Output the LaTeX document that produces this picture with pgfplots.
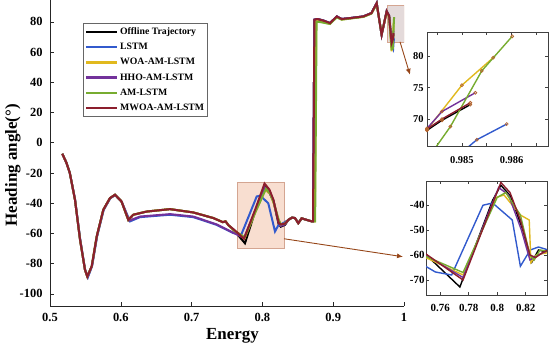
\documentclass[border=0pt]{standalone}
\usepackage{fontspec}
\setmainfont{Liberation Serif}
\usepackage{pgfplots}
\usepackage{pgfplotstable}
\pgfplotsset{compat=1.18}
\usetikzlibrary{arrows.meta}

\definecolor{cLSTM}{RGB}{50,90,205}
\definecolor{cWOA}{RGB}{225,185,30}
\definecolor{cHHO}{RGB}{115,50,155}
\definecolor{cAM}{RGB}{119,172,48}
\definecolor{cMW}{RGB}{140,30,45}
\definecolor{cArrow}{RGB}{150,70,25}
\definecolor{cRect}{RGB}{248,222,208}
\definecolor{cRectB}{RGB}{212,165,145}
\definecolor{cRectT}{RGB}{228,218,218}
\definecolor{cMark}{RGB}{180,100,45}

% ---------------- main series ----------------
\pgfplotstableread{
x y
0.5174 -7.3
0.5230 -13
0.5280 -20
0.5353 -37.7
0.5424 -64
0.5494 -84
0.5527 -88.5
0.5589 -81.8
0.5660 -62
0.5753 -44.3
0.5847 -36.6
0.5918 -34.4
0.6010 -38.8
0.6106 -51
0.6177 -47.6
0.6366 -45.5
0.6695 -43.9
0.7024 -46.1
0.7307 -49.8
0.7440 -52.5
0.7480 -52.0
0.7520 -54.5
0.7600 -58
0.7754 -66.5
0.7900 -45
0.8030 -29
0.8100 -33
0.8154 -38
0.8230 -54
0.8260 -55.5
0.8319 -54.3
0.8366 -51
0.8420 -49.5
0.8460 -49.8
0.8507 -53.2
0.8554 -50
0.8625 -51
0.8696 -52
0.8715 -52
0.8735 81.5
0.8776 81.9
0.8860 80.9
0.8955 79.2
0.9050 83.6
0.9120 81.9
0.9237 82.5
0.9425 83.6
0.9540 85.8
0.9614 92.4
0.9684 71.5
0.9755 87
0.9790 84
0.9825 65.5
0.9843 68.2
0.9846 69.8
0.98517 72.3
}\dBlack

\pgfplotstableread{
x y
0.5174 -7.3
0.5230 -13
0.5280 -20
0.5353 -37.2
0.5424 -63
0.5494 -83.5
0.5535 -89
0.5595 -81.5
0.5665 -62
0.5758 -44.5
0.5850 -36.8
0.5920 -34.6
0.6012 -39
0.6130 -52
0.6271 -49.2
0.6695 -47.6
0.7024 -49.2
0.7354 -54.3
0.7590 -59.8
0.7637 -60
0.7700 -61
0.7920 -35.5
0.7970 -35
0.8083 -40
0.8178 -58.7
0.8220 -55
0.8300 -53
0.8366 -51
0.8420 -49.5
0.8460 -49.8
0.8507 -53.2
0.8554 -50
0.8625 -51
0.8696 -52
0.8715 -52
0.8735 81.5
0.8776 81.9
0.8860 80.9
0.8955 79.2
0.9050 83.6
0.9120 81.9
0.9237 82.5
0.9425 83.6
0.9540 85.8
0.9614 92.4
0.9684 71.5
0.9755 87
0.9790 84
0.9825 64
0.9846 62
0.9853 66.7
0.9859 69.2
}\dLSTM

\pgfplotstableread{
x y
0.5174 -7.3
0.5230 -13
0.5280 -20
0.5353 -37.7
0.5424 -64
0.5494 -84
0.5527 -88.5
0.5589 -81.8
0.5660 -62
0.5753 -44.3
0.5847 -36.6
0.5918 -34.4
0.6010 -38.8
0.6106 -51
0.6177 -47.6
0.6366 -45.5
0.6695 -43.9
0.7024 -46.1
0.7307 -49.8
0.7440 -52.5
0.7480 -52.0
0.7520 -54.5
0.7600 -58
0.7750 -63
0.7900 -46
0.8040 -31
0.8110 -34
0.8160 -40
0.8220 -50
0.8260 -54
0.8319 -53.5
0.8366 -51
0.8420 -49.5
0.8460 -49.8
0.8507 -53.2
0.8554 -50
0.8625 -51
0.8696 -52
0.8740 -52
0.8760 81
0.8800 80.5
0.8860 79.8
0.8955 78.8
0.9050 83.2
0.9120 81.6
0.9237 82.3
0.9425 83.4
0.9540 85.6
0.9614 92
0.9684 71.8
0.9755 86.5
0.9790 83.5
0.9825 60.5
0.9843 68.3
0.9850 75.4
0.98563 79.8
}\dWOA

\pgfplotstableread{
x y
0.5174 -7.3
0.5230 -13
0.5280 -20
0.5353 -37.5
0.5424 -63.5
0.5494 -84
0.5532 -88.8
0.5592 -81.6
0.5662 -62
0.5755 -44.4
0.5848 -36.7
0.5919 -34.5
0.6011 -38.9
0.6120 -51.5
0.6271 -48.8
0.6695 -47.2
0.7024 -48.8
0.7354 -54
0.7590 -59.5
0.7740 -63
0.7900 -45
0.8030 -29.5
0.8100 -33
0.8160 -39
0.8230 -53
0.8260 -55
0.8319 -54
0.8366 -51
0.8420 -49.5
0.8460 -49.8
0.8507 -53.2
0.8554 -50
0.8625 -51
0.8696 -52
0.8715 -52
0.8735 81.5
0.8776 81.9
0.8860 80.9
0.8955 79.2
0.9050 83.6
0.9120 81.9
0.9237 82.5
0.9425 83.6
0.9540 85.8
0.9614 92.4
0.9684 71.5
0.9755 87
0.9790 84
0.9825 66
0.9843 68.5
0.9846 71.2
0.98527 74.2
}\dHHO

\pgfplotstableread{
x y
0.5174 -7.3
0.5230 -13
0.5280 -20
0.5353 -37.7
0.5424 -64
0.5494 -84
0.5527 -88.5
0.5589 -81.8
0.5660 -62
0.5753 -44.3
0.5847 -36.6
0.5918 -34.4
0.6010 -38.8
0.6106 -51
0.6177 -47.6
0.6366 -45.5
0.6695 -43.9
0.7024 -46.1
0.7307 -49.8
0.7440 -52.5
0.7480 -52.0
0.7520 -54.5
0.7600 -58
0.7750 -62.5
0.7900 -46
0.8050 -30.5
0.8110 -33.5
0.8170 -41
0.8230 -51
0.8260 -54
0.8319 -53.5
0.8366 -51
0.8420 -49.5
0.8460 -49.8
0.8507 -53.2
0.8554 -50
0.8625 -51
0.8696 -52
0.8745 -52
0.8765 80
0.8800 80
0.8860 79.5
0.8955 78.6
0.9050 83
0.9120 81.5
0.9237 82.2
0.9425 83.3
0.9540 85.5
0.9614 91.8
0.9684 72
0.9755 86.5
0.9790 83.5
0.9825 62
0.9842 62.4
0.98477 68.8
0.9854 77.7
0.98601 83.2
}\dAM

\pgfplotstableread{
x y
0.5174 -7.3
0.5230 -13
0.5280 -20
0.5353 -37.7
0.5424 -64
0.5494 -84
0.5527 -88.5
0.5589 -81.8
0.5660 -62
0.5753 -44.3
0.5847 -36.6
0.5918 -34.4
0.6010 -38.8
0.6106 -51
0.6177 -47.6
0.6366 -45.5
0.6695 -43.9
0.7024 -46.1
0.7307 -49.8
0.7440 -52.5
0.7480 -52.0
0.7520 -54.5
0.7600 -57.5
0.7740 -63.5
0.7900 -44
0.8030 -27
0.8100 -31
0.8154 -37.5
0.8230 -53
0.8260 -54
0.8319 -53.5
0.8366 -51
0.8420 -49.5
0.8460 -49.8
0.8507 -53.2
0.8554 -50
0.8625 -51
0.8696 -52
0.8715 -52
0.8735 81.5
0.8776 81.9
0.8860 80.9
0.8955 79.2
0.9050 83.6
0.9120 81.9
0.9237 82.5
0.9425 83.6
0.9540 85.8
0.9614 92.4
0.9684 71.5
0.9755 87
0.9790 84
0.9825 66
0.9843 68.4
0.9846 70.0
0.98517 72.6
}\dMW

% ---------------- zoomed (lower inset) series ----------------
\pgfplotstableread{
x y
0.7497 -59.7
0.7738 -72.8
0.7968 -38.1
0.8026 -32.1
0.8095 -36.5
0.8180 -50
0.8244 -62.8
0.8290 -58
0.8360 -59
}\iBlack
\pgfplotstableread{
x y
0.7497 -64.5
0.7566 -66.8
0.7680 -68
0.7900 -40.1
0.7968 -39.2
0.8106 -46
0.8163 -64.5
0.8232 -58
0.8290 -56.8
0.8360 -58
}\iLSTM
\pgfplotstableread{
x y
0.7497 -61
0.7761 -68
0.7991 -37
0.8048 -36
0.8163 -44
0.8225 -46
0.8237 -63
0.8275 -60
0.8360 -59
}\iWOA
\pgfplotstableread{
x y
0.7497 -60
0.7760 -69
0.8010 -33
0.8080 -36
0.8170 -50
0.8230 -62
0.8290 -60
0.8360 -58
}\iHHO
\pgfplotstableread{
x y
0.7497 -60.5
0.7760 -67
0.8000 -37
0.8060 -35
0.8163 -44
0.8230 -60
0.8260 -62
0.8300 -58
0.8360 -58.5
}\iAM
\pgfplotstableread{
x y
0.7497 -59.5
0.7760 -70
0.8026 -31
0.8090 -35
0.8163 -46
0.8230 -60
0.8270 -61
0.8320 -59
0.8360 -58
}\iMW

\begin{document}
\begin{tikzpicture}
\path[use as bounding box] (0,0) rectangle (550bp,348bp);

\begin{axis}[
  name=main, scale only axis, width=354bp, height=306bp,
  at={(50bp,42bp)}, anchor=south west,
  xmin=0.5, xmax=1, ymin=-108, ymax=94.5,
  axis lines=left, axis line style={-, line width=0.8bp, black!85},
  tick align=inside, major tick length=4bp,
  tick style={black!85, line width=0.6bp},
  xtick={0.5,0.6,0.7,0.8,0.9,1},
  xticklabels={0.5,0.6,0.7,0.8,0.9,1},
  ytick={-100,-80,-60,-40,-20,0,20,40,60,80},
  yticklabels={-100,-80,-60,-40,-20,0,20,40,60,80},
  ticklabel style={font=\bfseries\fontsize{12.5}{14}\selectfont},
  xticklabel style={yshift=-4bp},
  yticklabel style={xshift=-4bp},
  xlabel={Energy}, ylabel={Heading angle(°)},
  label style={font=\bfseries\fontsize{17}{19}\selectfont},
  xlabel style={at={(axis description cs:0.5155,-0.098)}, anchor=center},
  ylabel style={at={(axis description cs:-0.105,0.46)}, anchor=center},
  legend style={at={(axis description cs:0.093,0.925)}, anchor=north west,
    draw=black!60, line width=0.6bp, fill=white,
    font=\bfseries\fontsize{9.8}{11}\selectfont,
    row sep=4.2bp, inner xsep=2bp, inner ysep=3bp,
    nodes={inner sep=1.5bp}},
  legend cell align=left,
  legend image code/.code={\draw[#1, line width=2.4bp] (0bp,0bp) -- (31bp,0bp);},
  every axis plot/.append style={line width=2bp},
]
\fill[cRect, draw=cRectB, line width=0.6bp] (axis cs:0.764,-69.5) rectangle (axis cs:0.8305,-26);
\fill[cRectT, draw=cRectB, line width=0.6bp] (axis cs:0.976,66.8) rectangle (axis cs:1.0,91.3);
\addplot[black] table {\dBlack};
\addlegendentry{Offline Trajectory}
\addplot[cLSTM] table {\dLSTM};
\addlegendentry{LSTM}
\addplot[cWOA] table {\dWOA};
\addlegendentry{WOA-AM-LSTM}
\addplot[cHHO] table {\dHHO};
\addlegendentry{HHO-AM-LSTM}
\addplot[cAM] table {\dAM};
\addlegendentry{AM-LSTM}
\addplot[cMW] table {\dMW};
\addlegendentry{MWOA-AM-LSTM}
\coordinate (a1s) at (axis cs:0.8305,-63.5);
\coordinate (a1e) at (axis cs:0.9986,-75.4);
\coordinate (a2s) at (axis cs:0.9944,66.8);
\coordinate (a2e) at (axis cs:1.0085,45);
\end{axis}

% upper inset
\begin{axis}[
  scale only axis, width=121bp, height=114bp,
  at={(427bp,202bp)}, anchor=south west,
  xmin=0.9843, xmax=0.98673, ymin=65.7, ymax=83.9,
  restrict x to domain=0.982:0.99,
  scaled ticks=false,
  xtick={0.9845,0.985,0.9855,0.986,0.9865},
  xticklabels={,0.985,,0.986,},
  ytick={70,75,80}, yticklabels={70,75,80},
  tick align=inside, major tick length=3bp,
  axis line style={black!75, line width=0.8bp},
  tick style={black!75, line width=0.6bp},
  ticklabel style={font=\bfseries\fontsize{10.5}{12}\selectfont},
  xticklabel style={yshift=-7bp},
  every axis plot/.append style={line width=1.4bp, mark=o, mark size=1.5bp,
    mark options={draw=cMark, line width=0.7bp}},
]
\addplot[black] table {\dBlack};
\addplot[cLSTM] table {\dLSTM};
\addplot[cWOA] table {\dWOA};
\addplot[cHHO] table {\dHHO};
\addplot[cAM] table {\dAM};
\addplot[cMW] table {\dMW};
\end{axis}

% lower inset
\begin{axis}[
  scale only axis, width=121bp, height=114bp,
  at={(426bp,53bp)}, anchor=south west,
  xmin=0.75, xmax=0.835, ymin=-76, ymax=-30.4,
  scaled ticks=false,
  xtick={0.76,0.78,0.8,0.82}, xticklabels={0.76,0.78,0.8,0.82},
  ytick={-70,-60,-50,-40}, yticklabels={-70,-60,-50,-40},
  tick align=inside, major tick length=3bp,
  axis line style={black!75, line width=0.8bp},
  tick style={black!75, line width=0.6bp},
  ticklabel style={font=\bfseries\fontsize{11}{12}\selectfont},
  xticklabel style={yshift=-6bp},
  yticklabel style={xshift=2bp},
  every axis plot/.append style={line width=1.4bp},
]
\addplot[black] table {\iBlack};
\addplot[cLSTM] table {\iLSTM};
\addplot[cWOA] table {\iWOA};
\addplot[cHHO] table {\iHHO};
\addplot[cAM] table {\iAM};
\addplot[cMW] table {\iMW};
\end{axis}

\draw[cArrow, line width=0.9bp, -{Latex[length=6bp,width=5bp]}] (a1s) -- (a1e);
\draw[cArrow, line width=0.9bp, -{Latex[length=6bp,width=5bp]}] (a2s) -- (a2e);
\end{tikzpicture}
\end{document}
